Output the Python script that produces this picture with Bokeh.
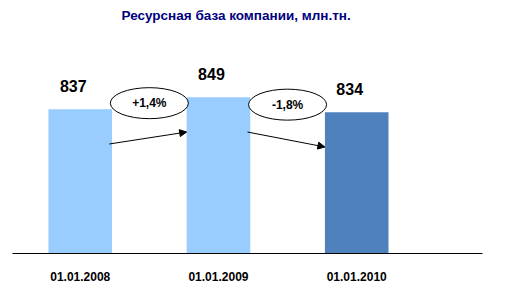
import numpy as np
from bokeh.plotting import figure
from bokeh.models import Range1d, FixedTicker, ColumnDataSource, Arrow, NormalHead
from bokeh.core.properties import value
from bokeh.embed import file_html
from bokeh.resources import INLINE

title_text = "Ресурсная база компании, млн.тн."
dates = ["01.01.2008", "01.01.2009", "01.01.2010"]
volumes = [837, 849, 834]
bar_colors = ["#99CCFF", "#99CCFF", "#4F81BD"]

FONT = "Liberation Sans"
idx = np.arange(len(dates))
vals = np.array(volumes, dtype=float)
bar_w = 0.46

y_base = 692
frame_h = 227

p = figure(width=505, height=294, output_backend="svg", toolbar_location=None,
           x_range=Range1d(-0.49, 2.91), y_range=Range1d(y_base, y_base + frame_h),
           y_axis_location=None, min_border_left=12, min_border_right=23,
           min_border_bottom=41, min_border_top=0, title=title_text)
p.title.text_font = FONT
p.title.text_font_size = "13.5px"
p.title.text_font_style = "bold"
p.title.text_color = "#000080"
p.title.align = "left"
p.title.offset = 109
p.outline_line_color = None
p.grid.visible = False
p.background_fill_color = "white"
p.border_fill_color = "white"

bars = ColumnDataSource(dict(x=idx, top=vals, color=bar_colors,
                             label=[str(v) for v in volumes]))
p.vbar(x="x", top="top", bottom=y_base, width=bar_w, fill_color="color",
       line_color=None, source=bars)
p.text(x="x", y="top", text="label", source=bars, text_align="center",
       text_baseline="middle", y_offset=-23, x_offset=-7,
       text_font=value(FONT), text_font_size="16px", text_font_style="bold",
       text_color="#000000")

# arrows between bars
arr = ColumnDataSource(dict(x0=idx[:-1] + bar_w / 2 - 0.02, y0=vals[:-1] - 35,
                            x1=idx[1:] - bar_w / 2, y1=vals[1:] - 35))
p.add_layout(Arrow(x_start="x0", y_start="y0", x_end="x1", y_end="y1", source=arr,
                   line_color="black", line_width=1,
                   end=NormalHead(size=7, fill_color="black", line_color="black")))

# percent change ellipses
pct = (vals[1:] / vals[:-1] - 1) * 100
pct_labels = [f"{v:+.1f}%".replace(".", ",") for v in pct]
ell = ColumnDataSource(dict(x=idx[:-1] + 0.5, y=(vals[:-1] + vals[1:]) / 2, t=pct_labels))
p.ellipse(x="x", y="y", width=78, height=31, width_units="screen", height_units="screen",
          fill_color="white", line_color="black", line_width=1, source=ell)
p.text(x="x", y="y", text="t", source=ell, text_align="center", text_baseline="middle",
       text_font=value(FONT), text_font_size="12px", text_font_style="bold",
       text_color="#000000")

ax = p.xaxis[0]
ax.ticker = FixedTicker(ticks=list(idx))
ax.major_label_overrides = {int(i): d for i, d in zip(idx, dates)}
ax.axis_line_color = "black"
ax.axis_line_width = 1
ax.major_tick_line_color = None
ax.minor_tick_line_color = None
ax.major_label_standoff = 12
ax.major_label_text_font = FONT
ax.major_label_text_font_size = "12px"
ax.major_label_text_font_style = "bold"
ax.major_label_text_color = "#000000"

open("out.html", "w").write(file_html(p, INLINE))
